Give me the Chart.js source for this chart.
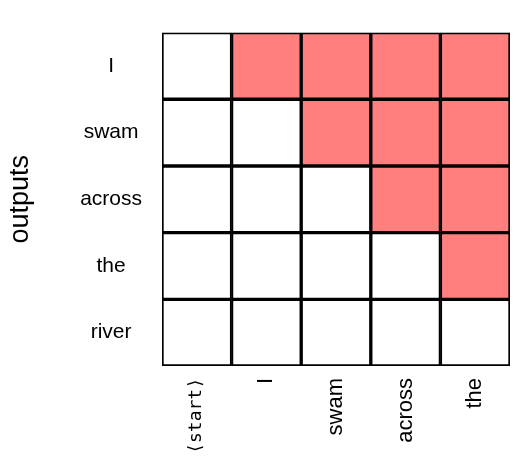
<!DOCTYPE html>
<html>
<head>
<meta charset="utf-8">
<script src="https://cdn.jsdelivr.net/npm/chart.js@4"></script>
<style>body{margin:0;background:#fff}</style>
</head>
<body>
<canvas id="c" width="530" height="474"></canvas>
<script>
const inputs = ['\u27E8start\u27E9', 'I', 'swam', 'across', 'the'];
const outputs = ['I', 'swam', 'across', 'the', 'river'];
// 1 = masked (red), 0 = visible; rows follow outputs, columns follow inputs
const mask = [
  [0, 1, 1, 1, 1],
  [0, 0, 1, 1, 1],
  [0, 0, 0, 1, 1],
  [0, 0, 0, 0, 1],
  [0, 0, 0, 0, 0],
];

const RED = '#FF7F7F';
// stacked from the bottom, so the last output row goes first
const datasets = outputs.map((name, r) => ({
  label: name,
  data: inputs.map(() => 1),
  backgroundColor: mask[r].map((m) => (m ? RED : '#FFFFFF')),
  borderColor: '#000',
  borderWidth: 2,
  borderSkipped: false,
  barPercentage: 1,
  categoryPercentage: 1,
})).reverse();

new Chart(document.getElementById('c'), {
  type: 'bar',
  data: { labels: inputs, datasets },
  options: {
    responsive: false,
    animation: false,
    layout: { padding: { top: 4, right: 20, left: 0, bottom: 0 } },
    plugins: { legend: { display: false }, tooltip: { enabled: false } },
    scales: {
      x: {
        stacked: true,
        grid: { display: false, drawTicks: false },
        border: { display: false },
        ticks: {
          color: '#000',
          minRotation: 90,
          maxRotation: 90,
          padding: 12,
          font: (ctx) => ctx.index === 0
            ? { family: 'DejaVu Sans Mono', size: 18 }
            : { family: 'Liberation Sans', size: 22 },
        },
        afterFit: (s) => { s.height = 108; },
      },
      y: {
        stacked: true,
        min: 0,
        max: 5,
        grid: { display: false, drawTicks: false },
        border: { display: false },
        afterBuildTicks: (s) => { s.ticks = [4.5, 3.5, 2.5, 1.5, 0.5].map((v) => ({ value: v })); },
        ticks: {
          color: '#000',
          padding: 20,
          crossAlign: 'center',
          font: { family: 'Liberation Sans', size: 21 },
          callback: (v) => outputs[Math.round(4.5 - v)],
        },
        title: {
          display: true,
          text: 'outputs',
          color: '#000',
          font: { family: 'Liberation Sans', size: 27 },
          padding: { bottom: 30 },
        },
        afterFit: (s) => { s.width = 162; },
      },
    },
  },
});
</script>
</body>
</html>
